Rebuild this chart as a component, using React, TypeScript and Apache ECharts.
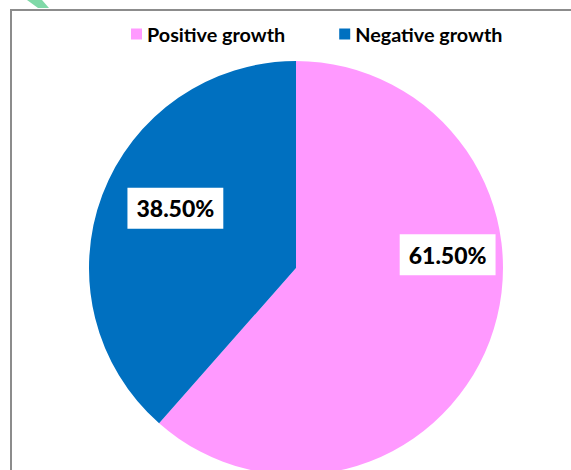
import React, { useEffect, useRef } from "react";
import * as echarts from "echarts";

const categories = ["Positive growth", "Negative growth"];
const values = [61.5, 38.5];
const colors = ["#FF99FF", "#0070C0"];

export default function App() {
  const ref = useRef<HTMLDivElement>(null);
  useEffect(() => {
    document.body.style.margin = "0";
    const chart = echarts.init(ref.current!, null, { renderer: "svg" });
    chart.setOption({
      animation: false,
      backgroundColor: "#ffffff",
      legend: {
        top: 19,
        left: 126,
        itemWidth: 11,
        itemHeight: 11,
        itemGap: 54,
        icon: "rect",
        textStyle: { fontFamily: "Lato", fontWeight: "bold", fontSize: 19.8, color: "#000000" },
        data: categories,
      },
      graphic: [
        {
          type: "rect",
          shape: { x: 11, y: 10, width: 700, height: 600 },
          style: { fill: "none", stroke: "#8c8c8c", lineWidth: 2 },
          z: 0,
        },
        {
          type: "polygon",
          shape: { points: [[27, 0], [42, 0], [49, 8], [38, 8]] },
          style: { fill: "#80D9A8" },
          z: 1,
        },
      ],
      series: [
        {
          type: "pie",
          center: [296, 268],
          radius: 207,
          startAngle: 90,
          clockwise: true,
          data: categories.map((c, i) => ({
            name: c,
            value: values[i],
            itemStyle: { color: colors[i] },
          })),
          label: {
            show: true,
            position: "inside",
            formatter: (p: any) => p.value.toFixed(2) + "%",
            fontFamily: "Lato",
            fontWeight: 900,
            fontSize: 23,
            color: "#000000",
            backgroundColor: "#ffffff",
            padding: [7, 9, 7, 9],
            lineHeight: 27,
          },
          labelLayout: (p: any) =>
            p.dataIndex === 0 ? { dx: 52, dy: -51 } : { dx: -21, dy: -22 },
          labelLine: { show: false },
          emphasis: { disabled: true },
        },
      ],
    });
    return () => chart.dispose();
  }, []);
  return <div ref={ref} style={{ position: "fixed", left: 0, top: 0, width: 571, height: 470 }} />;
}
